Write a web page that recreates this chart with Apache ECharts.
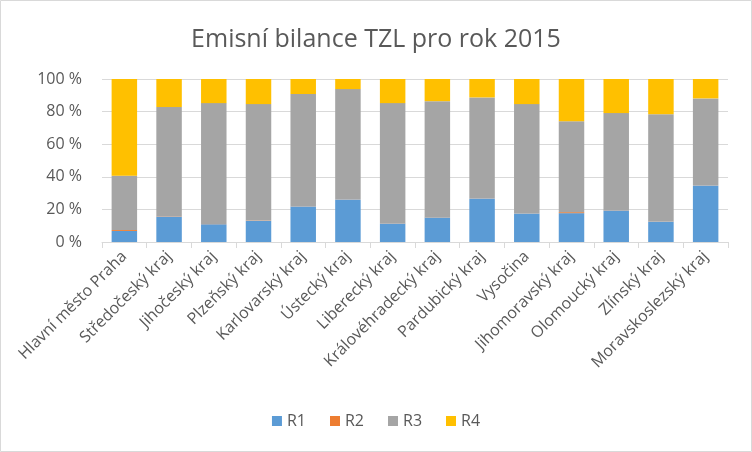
<!DOCTYPE html>
<html><head><meta charset="utf-8">
<script src="https://cdn.jsdelivr.net/npm/echarts@6/dist/echarts.min.js"></script>
<style>html,body{margin:0;padding:0;background:#fff}#c{width:752px;height:452px}</style>
</head><body><div id="c"></div>
<script>
const categories = ["Hlavní město Praha","Středočeský kraj","Jihočeský kraj","Plzeňský kraj","Karlovarský kraj","Ústecký kraj","Liberecký kraj","Královéhradecký kraj","Pardubický kraj","Vysočina","Jihomoravský kraj","Olomoucký kraj","Zlínský kraj","Moravskoslezský kraj"];
const r1 = [6.8,15.6,10.9,13.1,21.8,26.1,11.3,15.0,26.7,17.5,17.7,19.3,12.5,34.7];
const r2 = [0.6,0.2,0.1,0.2,0.1,0.1,0.1,0.1,0.1,0.1,0.6,0.1,0.1,0.1];
const r3 = [33.3,67.0,74.2,71.3,68.9,67.6,73.8,71.3,61.9,67.0,55.8,59.7,65.8,53.3];
const r4 = [59.3,17.2,14.8,15.4,9.2,6.2,14.8,13.6,11.3,15.4,25.9,20.9,21.6,11.9];
const seriesNames = ["R1","R2","R3","R4"];
const colors = ["#5b9bd5","#ed7d31","#a5a5a5","#ffc000"];
const font = "Open Sans";
const chart = echarts.init(document.getElementById('c'));
const all = [r1,r2,r3,r4];
chart.setOption({
  animation:false,
  textStyle:{fontFamily:font},
  graphic:[{type:'rect',shape:{x:0.5,y:0.5,width:751,height:451},style:{fill:'none',stroke:'#d9d9d9',lineWidth:1}}],
  title:{text:'Emisní bilance TZL pro rok 2015',left:'center',top:22,textStyle:{fontFamily:font,fontSize:25,fontWeight:'normal',color:'#595959'}},
  legend:{data:seriesNames,bottom:18,left:'center',itemWidth:10,itemHeight:10,itemGap:24,icon:'rect',textStyle:{fontFamily:font,fontSize:16,color:'#595959'}},
  grid:{left:102,right:24,top:79,bottom:210,containLabel:false},
  xAxis:{type:'category',data:categories,boundaryGap:true,
    axisLine:{lineStyle:{color:'#d9d9d9'}},axisTick:{show:true,length:6,lineStyle:{color:'#d9d9d9'}},
    axisLabel:{rotate:45,interval:0,fontSize:16,color:'#595959',margin:12,fontFamily:font}},
  yAxis:{type:'value',min:0,max:100,interval:20,
    axisLabel:{formatter:v=>v+' %',fontSize:16,color:'#595959',margin:20,fontFamily:font},
    splitLine:{lineStyle:{color:'#d9d9d9'}},axisLine:{show:false},axisTick:{show:false}},
  series:seriesNames.map((n,i)=>({name:n,type:'bar',stack:'s',data:all[i],barWidth:'57%',itemStyle:{color:colors[i]}}))
});
</script></body></html>
